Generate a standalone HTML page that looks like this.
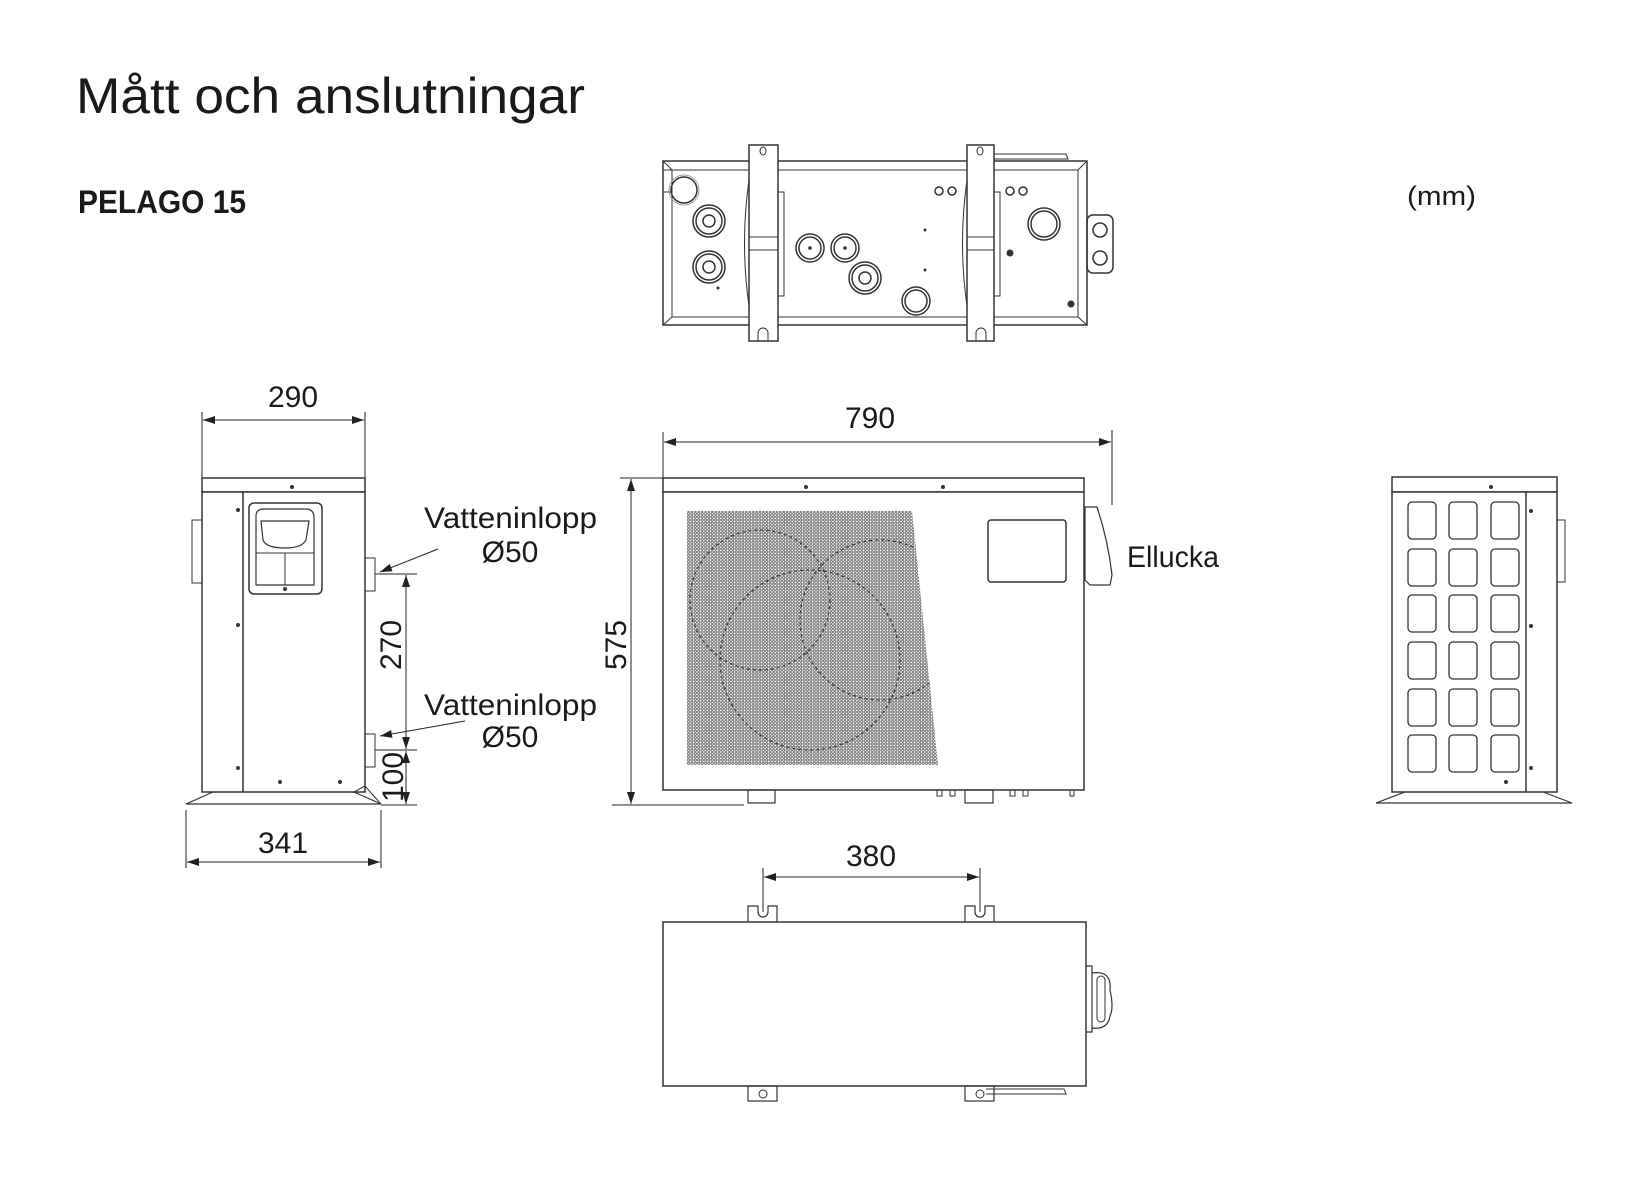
<!DOCTYPE html>
<html><head><meta charset="utf-8"><style>
html,body{margin:0;padding:0;background:#fff;}
svg{display:block}
text{font-family:"Liberation Sans",sans-serif;fill:#1a1a1a}
</style></head><body>
<svg width="1650" height="1200" viewBox="0 0 1650 1200" xmlns="http://www.w3.org/2000/svg">
<defs>
<marker id="ar" viewBox="0 0 12 8" refX="12" refY="4" markerWidth="12" markerHeight="8" orient="auto-start-reverse" markerUnits="userSpaceOnUse"><path d="M0,0 L12,4 L0,8 z" fill="#222"/></marker>
<pattern id="holes" width="3.4" height="3.2" patternUnits="userSpaceOnUse"><circle cx="1.7" cy="1.6" r="1.15" fill="#fff" stroke="#444" stroke-width="0.7"/></pattern>
<clipPath id="gc"><polygon points="687,511 912,511 938,765 687,765"/></clipPath>
</defs>

<text x="76" y="113" font-size="50" textLength="509" lengthAdjust="spacingAndGlyphs">Mått och anslutningar</text>
<text x="78" y="213" font-size="32" font-weight="bold" textLength="168" lengthAdjust="spacingAndGlyphs">PELAGO 15</text>
<text x="1407" y="205" font-size="27" textLength="69" lengthAdjust="spacingAndGlyphs">(mm)</text>

<g fill="none" stroke="#333" stroke-width="1.5">
<!-- TOP VIEW -->
<rect x="663" y="161" width="424" height="164" fill="#fff"/>
<path d="M663,161 L672,170 L1078,170 L1087,161 M663,325 L672,317 L1078,317 L1087,325 M672,170 L672,317 M1078,170 L1078,317" stroke-width="1"/>
<path d="M663,170 L672,170 L672,192 L663,192" stroke-width="1"/>
<path d="M994,154 L1066,154 L1068,159 L994,159" stroke-width="1"/>
<rect x="1087" y="215" width="26" height="58" rx="6"/>
<circle cx="1100" cy="230" r="7"/><circle cx="1100" cy="258" r="7"/>
<circle cx="684" cy="190" r="13"/><circle cx="684" cy="190" r="15" stroke-width="0.8" stroke="#888"/>
<circle cx="709" cy="221" r="16"/><circle cx="709" cy="221" r="13"/><circle cx="709" cy="221" r="6"/>
<circle cx="709" cy="267" r="16"/><circle cx="709" cy="267" r="13"/><circle cx="709" cy="267" r="6"/>
<circle cx="810" cy="248" r="14"/><circle cx="810" cy="248" r="11"/>
<circle cx="845" cy="248" r="14"/><circle cx="845" cy="248" r="11"/>
<circle cx="865" cy="278" r="16"/><circle cx="865" cy="278" r="13"/><circle cx="865" cy="278" r="6"/>
<circle cx="916" cy="301" r="14"/><circle cx="916" cy="301" r="11"/>
<circle cx="1044" cy="224" r="16"/><circle cx="1044" cy="224" r="13"/>
<circle cx="939" cy="191" r="4"/><circle cx="952" cy="191" r="4"/><circle cx="1010" cy="191" r="4"/><circle cx="1023" cy="191" r="4"/>
<rect x="749" y="145" width="29" height="196" fill="#fff"/>
<rect x="967" y="145" width="27" height="196" fill="#fff"/>
<path d="M749,237 L778,237 M749,250 L778,250 M967,237 L994,237 M967,250 L994,250" stroke-width="1"/>
<path d="M749,180 Q740,243 749,306 M778,192 L784,192 L784,296 L778,296 M967,180 Q958,243 967,306 M994,192 L1000,192 L1000,296 L994,296" stroke-width="1"/>
<ellipse cx="763" cy="151" rx="3" ry="4" stroke-width="1"/><ellipse cx="980" cy="151" rx="3" ry="4" stroke-width="1"/>
<path d="M758,341 L758,333 A5,5 0 0 1 768,333 L768,341 M976,341 L976,333 A5,5 0 0 1 986,333 L986,341" stroke-width="1"/>
</g>
<g fill="#333"><circle cx="925" cy="230" r="1.5"/><circle cx="925" cy="270" r="1.5"/><circle cx="718" cy="288" r="1.5"/><circle cx="1010" cy="253" r="3.5"/><circle cx="1071" cy="304" r="3.5"/><circle cx="810" cy="248" r="1.8"/><circle cx="845" cy="248" r="1.8"/></g>

<!-- SIDE VIEW -->
<g fill="none" stroke="#333" stroke-width="1.5">
<rect x="202" y="478" width="163" height="14" fill="#fff"/>
<rect x="202" y="492" width="163" height="300" fill="#fff"/>
<line x1="243" y1="492" x2="243" y2="792"/>
<rect x="249" y="503" width="73" height="91" rx="5"/>
<path d="M256,516 Q256,509 264,509 L306,509 Q314,509 314,518 L314,585 L256,585 Z" stroke-width="1.2"/>
<path d="M261,521 L309,521 L306,540 Q302,548 285,548 Q266,548 263,540 Z" stroke-width="1.2"/>
<path d="M256,553 L314,553 M285,553 L285,585" stroke-width="1"/>
<path d="M192,520 L202,520 L202,583 L192,583 Z" stroke-width="1"/>
<rect x="365" y="558" width="10" height="33" stroke-width="1"/>
<rect x="365" y="734" width="10" height="33" stroke-width="1"/>
<path d="M213,792 L186,804 L381,804 L354,792" stroke-width="1.2"/>
<path d="M354,792 L365,786 L381,804" stroke-width="1"/>
<g stroke="#222" stroke-width="1">
<line x1="202" y1="412" x2="202" y2="478"/><line x1="365" y1="412" x2="365" y2="478"/>
<line x1="203" y1="420" x2="364" y2="420" marker-start="url(#ar)" marker-end="url(#ar)"/>
<line x1="186" y1="810" x2="186" y2="868"/><line x1="381" y1="810" x2="381" y2="868"/>
<line x1="187" y1="862" x2="380" y2="862" marker-start="url(#ar)" marker-end="url(#ar)"/>
<line x1="375" y1="574" x2="417" y2="574"/><line x1="375" y1="750" x2="417" y2="750"/><line x1="381" y1="805" x2="417" y2="805"/>
<line x1="406" y1="575" x2="406" y2="749" marker-start="url(#ar)" marker-end="url(#ar)"/>
<line x1="406" y1="751" x2="406" y2="804" marker-start="url(#ar)" marker-end="url(#ar)"/>
<line x1="438" y1="549" x2="380" y2="572" marker-end="url(#ar)"/>
<line x1="465" y1="721" x2="380" y2="736" marker-end="url(#ar)"/>
</g>
</g>
<g fill="#333"><circle cx="292" cy="487" r="2"/><circle cx="238" cy="510" r="2"/><circle cx="238" cy="625" r="2"/><circle cx="238" cy="768" r="2"/><circle cx="285" cy="589" r="2"/><circle cx="280" cy="782" r="2"/><circle cx="340" cy="782" r="2"/></g>
<text x="293" y="407" font-size="30" text-anchor="middle">290</text>
<text x="283" y="853" font-size="30" text-anchor="middle">341</text>
<text x="424" y="528" font-size="30" textLength="173" lengthAdjust="spacingAndGlyphs">Vatteninlopp</text>
<text x="510" y="562" font-size="30" text-anchor="middle">Ø50</text>
<text x="424" y="715" font-size="30" textLength="173" lengthAdjust="spacingAndGlyphs">Vatteninlopp</text>
<text x="510" y="747" font-size="30" text-anchor="middle">Ø50</text>
<text transform="translate(401,645) rotate(-90)" font-size="30" text-anchor="middle">270</text>
<text transform="translate(403,777) rotate(-90)" font-size="30" text-anchor="middle">100</text>

<!-- FRONT VIEW -->
<g fill="none" stroke="#333" stroke-width="1.5">
<rect x="663" y="478" width="421" height="14" fill="#fff"/>
<rect x="663" y="492" width="421" height="298" fill="#fff"/>
<polygon points="687,511 912,511 938,765 687,765" fill="url(#holes)" stroke="none"/>
<g clip-path="url(#gc)" stroke="#333" stroke-width="1.2" stroke-dasharray="3 3">
<circle cx="760" cy="600" r="70"/>
<circle cx="880" cy="620" r="80"/>
<circle cx="810" cy="660" r="90"/>
</g>
<rect x="988" y="520" width="78" height="62" rx="3"/>
<path d="M1085,507 L1097,507 Q1108,540 1112,575 L1110,585 L1090,585 L1085,580 Z" stroke-width="1.2"/>
<rect x="748" y="790" width="27" height="13" stroke-width="1.2"/>
<rect x="965" y="790" width="28" height="13" stroke-width="1.2"/>
<path d="M937,790 v6 h5 v-6 M950,790 v6 h5 v-6 M1010,790 v6 h5 v-6 M1023,790 v6 h5 v-6 M1070,790 v6 h4 v-6" stroke-width="1"/>
<g stroke="#222" stroke-width="1">
<line x1="663" y1="432" x2="663" y2="478"/><line x1="1112" y1="430" x2="1112" y2="505"/>
<line x1="664" y1="442" x2="1111" y2="442" marker-start="url(#ar)" marker-end="url(#ar)"/>
<line x1="620" y1="478" x2="663" y2="478"/><line x1="612" y1="805" x2="744" y2="805"/>
<line x1="631" y1="479" x2="631" y2="804" marker-start="url(#ar)" marker-end="url(#ar)"/>
</g>
</g>
<g fill="#333"><circle cx="806" cy="487" r="2"/><circle cx="943" cy="487" r="2"/></g>
<text x="870" y="428" font-size="30" text-anchor="middle">790</text>
<text transform="translate(626,645) rotate(-90)" font-size="30" text-anchor="middle">575</text>
<text x="1127" y="567" font-size="30" textLength="92" lengthAdjust="spacingAndGlyphs">Ellucka</text>

<!-- RIGHT VIEW -->
<g fill="none" stroke="#333" stroke-width="1.5">
<rect x="1392" y="477" width="165" height="15" fill="#fff"/>
<rect x="1392" y="492" width="165" height="300" fill="#fff"/>
<line x1="1526" y1="492" x2="1526" y2="792"/>
<path d="M1557,520 L1565,520 L1565,582 L1557,582" stroke-width="1"/>
<path d="M1405,792 L1376,803 L1572,803 L1543,792" stroke-width="1.2"/>
<g stroke-width="1.3">
<rect x="1408" y="502" width="28" height="37" rx="4"/><rect x="1449" y="502" width="28" height="37" rx="4"/><rect x="1491" y="502" width="28" height="37" rx="4"/>
<rect x="1408" y="549" width="28" height="37" rx="4"/><rect x="1449" y="549" width="28" height="37" rx="4"/><rect x="1491" y="549" width="28" height="37" rx="4"/>
<rect x="1408" y="595" width="28" height="37" rx="4"/><rect x="1449" y="595" width="28" height="37" rx="4"/><rect x="1491" y="595" width="28" height="37" rx="4"/>
<rect x="1408" y="642" width="28" height="37" rx="4"/><rect x="1449" y="642" width="28" height="37" rx="4"/><rect x="1491" y="642" width="28" height="37" rx="4"/>
<rect x="1408" y="689" width="28" height="37" rx="4"/><rect x="1449" y="689" width="28" height="37" rx="4"/><rect x="1491" y="689" width="28" height="37" rx="4"/>
<rect x="1408" y="735" width="28" height="37" rx="4"/><rect x="1449" y="735" width="28" height="37" rx="4"/><rect x="1491" y="735" width="28" height="37" rx="4"/>
</g>
</g>
<g fill="#333"><circle cx="1491" cy="487" r="2"/><circle cx="1531" cy="511" r="2"/><circle cx="1531" cy="626" r="2"/><circle cx="1531" cy="768" r="2"/><circle cx="1506" cy="782" r="2"/></g>

<!-- BOTTOM VIEW -->
<g fill="none" stroke="#333" stroke-width="1.5">
<rect x="663" y="922" width="423" height="164" fill="#fff"/>
<path d="M748,922 L748,906 L758,906 L758,912 A5,5 0 0 0 768,912 L768,906 L777,906 L777,922 M965,922 L965,906 L975,906 L975,912 A5,5 0 0 0 985,912 L985,906 L994,906 L994,922" stroke-width="1.2"/>
<rect x="748" y="1086" width="29" height="15" stroke-width="1.2"/><circle cx="763" cy="1094" r="4" stroke-width="1"/>
<rect x="965" y="1086" width="29" height="15" stroke-width="1.2"/><circle cx="980" cy="1094" r="4" stroke-width="1"/>
<path d="M986,1089 L1064,1089 L1066,1094 L986,1094" stroke-width="1"/>
<path d="M1086,966 L1092,966 L1092,1032 L1086,1032 M1092,973 Q1112,970 1110,990 Q1114,1008 1110,1016 Q1108,1030 1092,1028" stroke-width="1.2"/>
<rect x="1097" y="976" width="8" height="46" rx="4" stroke-width="1"/>
<g stroke="#222" stroke-width="1">
<line x1="763" y1="868" x2="763" y2="912"/><line x1="980" y1="868" x2="980" y2="912"/>
<line x1="764" y1="877" x2="979" y2="877" marker-start="url(#ar)" marker-end="url(#ar)"/>
</g>
</g>
<text x="871" y="866" font-size="30" text-anchor="middle">380</text>
</svg>
</body></html>
